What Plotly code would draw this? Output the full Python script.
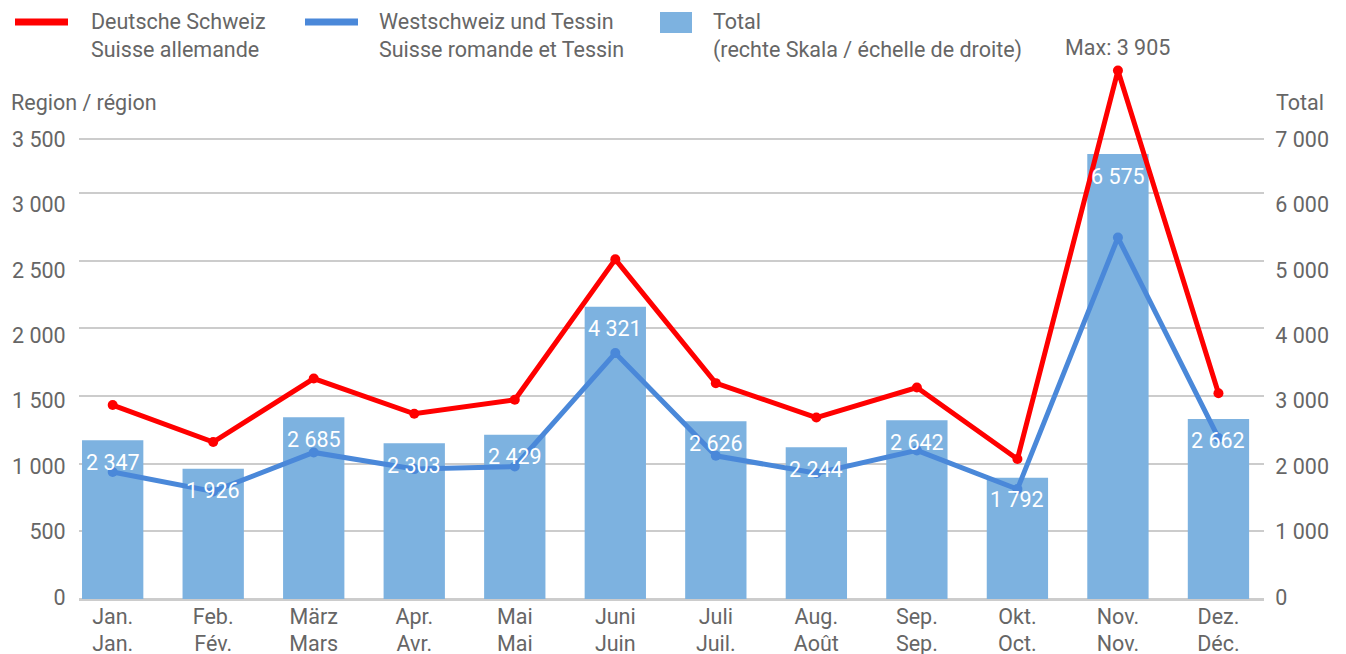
import plotly.graph_objects as go

months = ["Jan.<br>Jan.", "Feb.<br>Fév.", "März<br>Mars", "Apr.<br>Avr.", "Mai<br>Mai",
          "Juni<br>Juin", "Juli<br>Juil.", "Aug.<br>Août", "Sep.<br>Sep.", "Okt.<br>Oct.",
          "Nov.<br>Nov.", "Dez.<br>Déc."]
deutsche = [1433, 1160, 1629, 1369, 1472, 2510, 1595, 1341, 1563, 1034, 3905, 1521]
westschweiz = [938, 795, 1083, 960, 979, 1817, 1058, 930, 1098, 812, 2671, 1190]
total = [2347, 1926, 2685, 2303, 2429, 4321, 2626, 2244, 2642, 1792, 6575, 2662]
region_ticks = [0, 500, 1000, 1500, 2000, 2500, 3000, 3500]
total_ticks = [0, 1000, 2000, 3000, 4000, 5000, 6000, 7000]

RED = "#ff0000"
BLUE = "#4a88d9"
BAR = "#7db2e0"
GREY = "#666666"
GRID = "#cccccc"
FONT = "Roboto"
FS = 21.5

W, H = 1346, 654
BOTTOM = 599.3          # pixel of value 0
TOP = 60.0              # top of plotting area (room for the Nov peak)
PX_PER_REGION = 0.1354  # pixels per unit on region scale
ML, MR = 79, 82
MT, MB = TOP, H - BOTTOM
PW, PH = W - ML - MR, BOTTOM - TOP

# label positions in the original (evenly spread between these pixels)
LAB0_PX, LABTOP_PX = 597.3, 139.3
GRID_TOP_PX = 139.0


def px(x):
    return (x - ML) / PW


def py(y):
    return (BOTTOM - y) / PH


def fmt(v):
    return f"{v:,}".replace(",", " ")


region_max = PH / PX_PER_REGION
total_max = 2 * region_max


def label_range(vmax_label):
    span = vmax_label * PH / (LAB0_PX - LABTOP_PX)
    a = -(BOTTOM - LAB0_PX) / PH * span
    return [a, a + span]


grid_top_val = (BOTTOM - GRID_TOP_PX) / PX_PER_REGION * 2
grid_vals = [v for v in total_ticks if v < grid_top_val - 300] + [grid_top_val]

fig = go.Figure()
fig.add_trace(go.Bar(x=months, y=total, yaxis="y", marker=dict(color=BAR, line=dict(width=0)),
                     name="Total", hoverinfo="skip"))
fig.add_trace(go.Scatter(x=months, y=westschweiz, mode="lines+markers", yaxis="y2",
                         line=dict(color=BLUE, width=5), marker=dict(size=10, color=BLUE),
                         cliponaxis=False, name="Westschweiz und Tessin", hoverinfo="skip"))
fig.add_trace(go.Scatter(x=months, y=deutsche, mode="lines+markers", yaxis="y2",
                         line=dict(color=RED, width=5), marker=dict(size=10, color=RED),
                         cliponaxis=False, name="Deutsche Schweiz", hoverinfo="skip"))
# empty traces so that the label-only axes are drawn
fig.add_trace(go.Scatter(x=[], y=[], yaxis="y3", showlegend=False, hoverinfo="skip"))
fig.add_trace(go.Scatter(x=[], y=[], yaxis="y4", showlegend=False, hoverinfo="skip"))

annotations = []
for m, t in zip(months, total):
    annotations.append(dict(x=m, y=t, xref="x", yref="y", text=fmt(t),
                            showarrow=False, yshift=-22, yanchor="middle",
                            font=dict(family=FONT, size=FS, color="white")))
imax = deutsche.index(max(deutsche))
annotations.append(dict(x=months[imax], y=deutsche[imax], xref="x", yref="y2",
                        text="Max: " + fmt(deutsche[imax]),
                        showarrow=False, yshift=23, yanchor="middle",
                        font=dict(family=FONT, size=FS, color=GREY)))

# axis titles
annotations.append(dict(x=px(9), y=py(103), xref="paper", yref="paper", text="Region / région",
                        showarrow=False, xanchor="left", yanchor="middle",
                        font=dict(family=FONT, size=FS, color=GREY)))
annotations.append(dict(x=px(1274), y=py(103), xref="paper", yref="paper", text="Total",
                        showarrow=False, xanchor="left", yanchor="middle",
                        font=dict(family=FONT, size=FS, color=GREY)))

# legend
legend_items = [
    (15, 68, RED, "Deutsche Schweiz<br>Suisse allemande", 92, "line"),
    (305, 358, BLUE, "Westschweiz und Tessin<br>Suisse romande et Tessin", 380, "line"),
    (660, 692, BAR, "Total<br>(rechte Skala / échelle de droite)", 714, "box"),
]
shapes = []
for x0, x1, col, txt, tx, kind in legend_items:
    if kind == "line":
        shapes.append(dict(type="rect", xref="paper", yref="paper", x0=px(x0), x1=px(x1),
                           y0=py(25.5), y1=py(18.5), fillcolor=col, line=dict(width=0)))
    else:
        shapes.append(dict(type="rect", xref="paper", yref="paper", x0=px(x0), x1=px(x1),
                           y0=py(33), y1=py(12), fillcolor=col, line=dict(width=0)))
    annotations.append(dict(x=px(tx - 3), y=py(35.5), xref="paper", yref="paper", text=txt,
                            showarrow=False, xanchor="left", yanchor="middle", align="left",
                            font=dict(family=FONT, size=FS, color=GREY)))

tickfont = dict(family=FONT, size=FS, color=GREY)
fig.update_layout(
    width=W, height=H, autosize=False,
    margin=dict(l=ML, r=MR, t=MT, b=MB, pad=0),
    paper_bgcolor="white", plot_bgcolor="white",
    showlegend=False, bargap=0.39,
    separators=". ",
    font=dict(family=FONT, size=FS, color=GREY),
    xaxis=dict(type="category", range=[-0.335, 11.453], showgrid=False, showline=False,
               ticks="", ticklabelstandoff=2, automargin=False, tickfont=tickfont),
    yaxis=dict(range=[0, total_max], tickmode="array", tickvals=grid_vals, side="right",
               showticklabels=False, showgrid=True, gridcolor=GRID, gridwidth=1.6,
               zeroline=True, zerolinecolor=GRID, zerolinewidth=2.5,
               ticks="", automargin=False),
    yaxis2=dict(range=[0, region_max], overlaying="y", side="left",
                showgrid=False, zeroline=False, showticklabels=False, ticks="",
                automargin=False),
    yaxis3=dict(range=label_range(region_ticks[-1]), overlaying="y", side="left",
                tickmode="array", tickvals=region_ticks, tickformat=",d",
                showgrid=False, zeroline=False, ticks="outside", ticklen=8,
                tickcolor="rgba(0,0,0,0)", automargin=False, tickfont=tickfont),
    yaxis4=dict(range=label_range(total_ticks[-1]), overlaying="y", side="right",
                tickmode="array", tickvals=total_ticks, tickformat=",d",
                showgrid=False, zeroline=False, ticks="outside", ticklen=6,
                tickcolor="rgba(0,0,0,0)", automargin=False, tickfont=tickfont),
    annotations=annotations, shapes=shapes,
)

fig.write_html("out.html", config={"displayModeBar": False},
               post_script="document.body.style.margin='0';")
